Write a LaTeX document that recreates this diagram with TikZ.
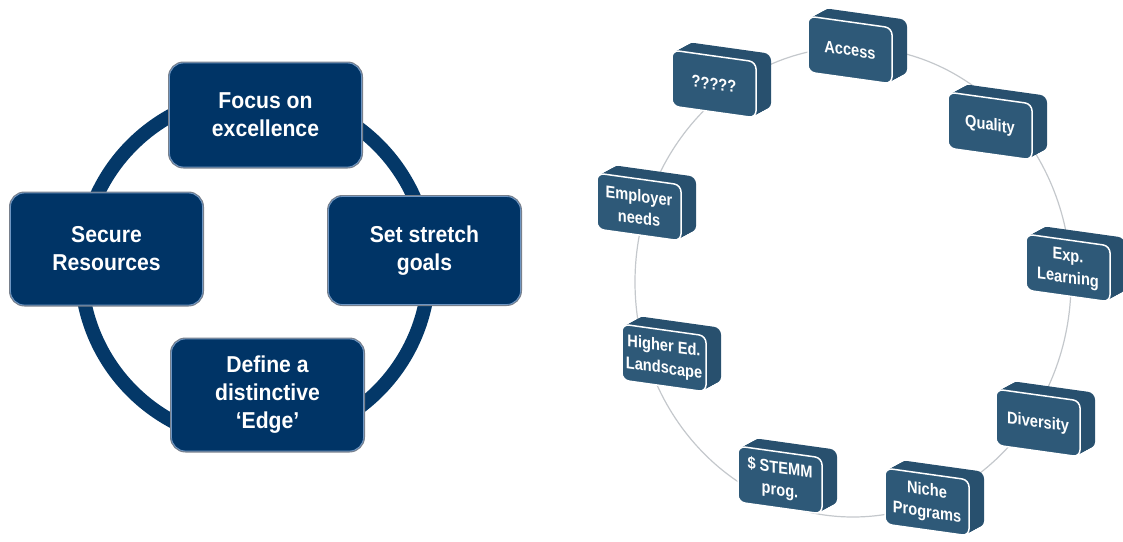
\documentclass[tikz,border=0pt]{standalone}
\usepackage{fontspec}
\setmainfont{Liberation Sans}
\newfontfamily\nbf[FakeStretch=0.92]{Liberation Sans}
\newfontfamily\nnbf[FakeStretch=0.86]{Liberation Sans}
\definecolor{navy}{RGB}{0,52,102}
\definecolor{ringnavy}{RGB}{4,56,104}
\definecolor{steel}{RGB}{46,89,120}
\definecolor{steeldark}{RGB}{40,80,110}
\definecolor{rimgrey}{RGB}{120,128,140}
\definecolor{rimblue}{RGB}{110,150,195}
\definecolor{ringgrey}{RGB}{196,200,204}
\tikzset{
  bigbox/.style={rectangle, rounded corners=14pt, fill=navy, draw=rimblue, line width=0.8pt,
    preaction={draw=rimgrey, line width=3pt}, minimum width=192pt, minimum height=108pt,
    text=white, align=center, font=\nbf\bfseries\fontsize{23}{28}\selectfont, inner sep=0pt},
  cubeface/.style={rectangle, rounded corners=7pt, fill=steel, draw=white, line width=1.5pt,
    minimum width=84pt, minimum height=56pt, text=white, align=center,
    font=\nnbf\bfseries\fontsize{17}{22}\selectfont, inner sep=0pt, transform shape},
  cubeback/.style={rectangle, rounded corners=7pt, fill=steeldark, minimum width=84pt,
    minimum height=56pt, inner sep=0pt, transform shape},
}
\newcommand{\cubenode}[4]{%
  \begin{scope}[shift={(#2,#3)}, yslant=-0.14]
    \foreach \t in {1,...,15}{\node[cubeback] at ({\t*1.0},{-\t*0.68}) {};}
    \node[cubeface] (#1) at (0,0) {#4};
  \end{scope}}
\begin{document}
\begin{tikzpicture}[x=1pt,y=-1pt]
\useasboundingbox (0,0) rectangle (1123,541);
% left cycle
\draw[ringnavy, line width=14pt] (255,268) circle[radius=174pt];
\node[bigbox, minimum height=104pt] (focus) at (265.5,115) {Focus on\\excellence};
\node[bigbox, minimum height=112pt] (secure) at (106.5,249) {Secure\\Resources};
\node[bigbox] (stretch) at (424.5,250.5) {Set stretch\\goals};
\node[bigbox, minimum height=112pt] (edge) at (267.5,395) {Define a\\distinctive\\‘Edge’};
% right cycle
\draw[ringgrey, line width=1.2pt] (853,282) ellipse[x radius=218pt, y radius=235pt];
\cubenode{access}{850}{50}{Access}
\cubenode{qmarks}{714}{84}{?????}
\cubenode{quality}{990}{126}{Quality}
\cubenode{employer}{639}{207}{Employer\\needs}
\cubenode{exp}{1068}{268}{Exp.\\Learning}
\cubenode{higher}{664}{358}{Higher Ed.\\Landscape}
\cubenode{diversity}{1038}{423}{Diversity}
\cubenode{stemm}{780}{480}{\$ STEMM\\prog.}
\cubenode{niche}{927}{502}{Niche\\Programs}
\end{tikzpicture}
\end{document}
